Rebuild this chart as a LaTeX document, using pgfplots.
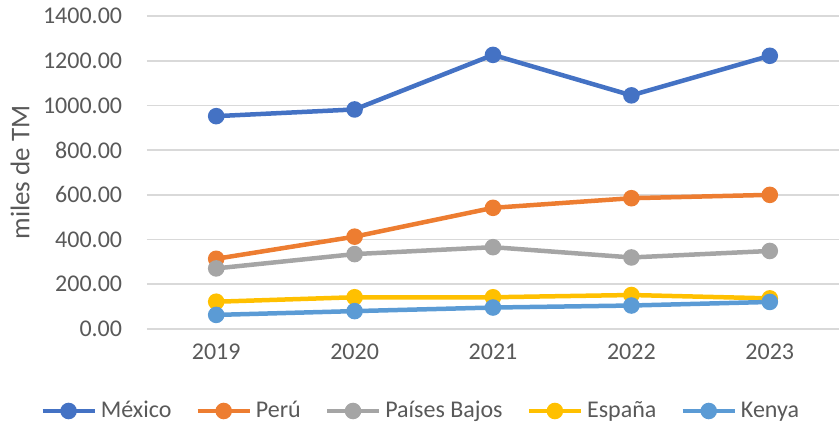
\documentclass[border=0pt]{standalone}
\usepackage{fontspec}
\setmainfont{Carlito}
\usepackage{pgfplots}
\pgfplotsset{compat=1.18}
\definecolor{cMex}{HTML}{4472C4}
\definecolor{cPer}{HTML}{ED7D31}
\definecolor{cPai}{HTML}{A5A5A5}
\definecolor{cEsp}{HTML}{FFC000}
\definecolor{cKen}{HTML}{5B9BD5}
\definecolor{txt}{HTML}{595959}
\definecolor{gridc}{HTML}{D9D9D9}

\begin{document}
\begin{tikzpicture}[font=\fontsize{12}{14}\selectfont]
\useasboundingbox (-73.5pt,-49pt) rectangle (346pt,164.5pt);
\begin{axis}[
  at={(0,0)}, anchor=south west,
  scale only axis,
  width=346pt, height=156.5pt,
  xmin=2018.5, xmax=2023.5,
  ymin=0, ymax=1400,
  xtick={2019,2020,2021,2022,2023},
  ytick={0,200,400,600,800,1000,1200,1400},
  x tick label style={/pgf/number format/1000 sep={}},
  y tick label style={/pgf/number format/fixed, /pgf/number format/fixed zerofill,
    /pgf/number format/precision=2, /pgf/number format/1000 sep={}, xshift=-8pt},
  /pgf/number format/assume math mode=true,
  tick label style={text=txt},
  xticklabel style={yshift=-3pt},
  major tick length=0pt,
  axis line style={draw=none},
  ymajorgrids=true, xmajorgrids=false,
  grid style={color=gridc, line width=0.9pt},
  ylabel={miles de TM},
  ylabel style={at={(axis description cs:-0.1835,0.5)}, anchor=center, text=txt,
    font=\fontsize{13.5}{15}\selectfont},
  line width=2.25pt,
  every axis plot/.append style={mark=*, mark size=3pt, mark options={solid}},
  legend columns=5,
  legend style={draw=none, fill=none, at={(0.397,0)}, anchor=center, yshift=-41pt,
    text=txt, /tikz/every even column/.append style={column sep=10pt}},
  legend cell align=left,
  legend image code/.code={\draw[mark repeat=2,mark phase=2,#1] plot coordinates {(0pt,0pt)(13pt,0pt)(26pt,0pt)};},
]
\addplot[color=cMex] coordinates {(2019,952) (2020,982) (2021,1226) (2022,1045) (2023,1222)};
\addplot[color=cPer] coordinates {(2019,314) (2020,413) (2021,542) (2022,585) (2023,600)};
\addplot[color=cPai] coordinates {(2019,271) (2020,335) (2021,366) (2022,320) (2023,349)};
\addplot[color=cEsp] coordinates {(2019,122) (2020,142) (2021,142) (2022,152) (2023,137)};
\addplot[color=cKen] coordinates {(2019,63) (2020,80) (2021,96) (2022,105) (2023,121)};
\legend{México,Perú,Países Bajos,España,Kenya}
\end{axis}
\end{tikzpicture}
\end{document}
